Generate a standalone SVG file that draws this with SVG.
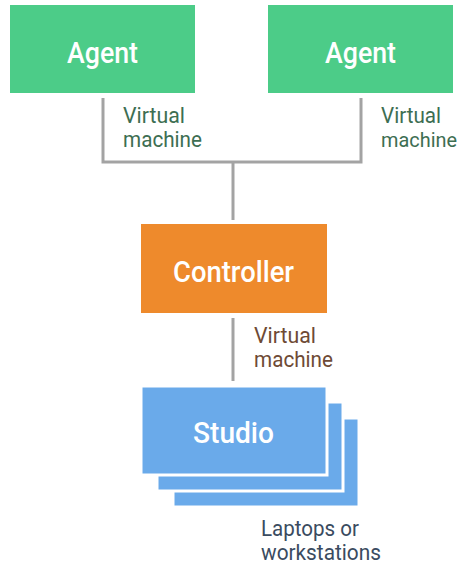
<svg xmlns="http://www.w3.org/2000/svg" width="462" height="568" viewBox="0 0 462 568">
<style>
.box-t{font-family:Roboto,"Liberation Sans",sans-serif;font-weight:500;font-size:30px;fill:#ffffff;}
.lbl{font-family:Roboto,"Liberation Sans",sans-serif;font-size:22px;}
.g{fill:#3d6e52}.o{fill:#6e4a35}.b{fill:#3a4b60}
.conn{stroke:#a3a3a3;stroke-width:3;fill:none}
</style>
<rect width="462" height="568" fill="#ffffff"/>
<g id="connectors">
<path class="conn" d="M103,98 V162 H361 V98"/>
<path class="conn" d="M233,162 V220"/>
<path class="conn" d="M233,318 V381"/>
</g>
<g id="agent-left">
<rect x="10" y="5" width="185" height="88" fill="#4ccc88"/>
<text class="box-t" x="67" y="63" textLength="71" lengthAdjust="spacingAndGlyphs">Agent</text>
<text class="lbl g" x="123" y="123" textLength="62" lengthAdjust="spacingAndGlyphs">Virtual</text>
<text class="lbl g" x="123" y="147" textLength="79" lengthAdjust="spacingAndGlyphs">machine</text>
</g>
<g id="agent-right">
<rect x="268" y="5" width="185" height="88" fill="#4ccc88"/>
<text class="box-t" x="325" y="63" textLength="71" lengthAdjust="spacingAndGlyphs">Agent</text>
<text class="lbl g" x="381" y="123" font-size="20" textLength="60" lengthAdjust="spacingAndGlyphs">Virtual</text>
<text class="lbl g" x="381" y="147" font-size="20" style="font-size:20px" textLength="76" lengthAdjust="spacingAndGlyphs">machine</text>
</g>
<g id="controller">
<rect x="141" y="224" width="186" height="89" fill="#ee8a2c"/>
<text class="box-t" x="173" y="282" textLength="121" lengthAdjust="spacingAndGlyphs">Controller</text>
<text class="lbl o" x="254" y="343" textLength="62" lengthAdjust="spacingAndGlyphs">Virtual</text>
<text class="lbl o" x="254" y="367" textLength="79" lengthAdjust="spacingAndGlyphs">machine</text>
</g>
<g id="studio">
<rect x="173" y="418" width="186" height="89" fill="#6aaaea" stroke="#ffffff" stroke-width="3"/>
<rect x="157" y="402" width="186" height="89" fill="#6aaaea" stroke="#ffffff" stroke-width="3"/>
<rect x="141" y="386" width="186" height="89" fill="#6aaaea" stroke="#ffffff" stroke-width="3"/>
<text class="box-t" x="193" y="443" textLength="81" lengthAdjust="spacingAndGlyphs">Studio</text>
<text class="lbl b" x="261" y="536" textLength="98" lengthAdjust="spacingAndGlyphs">Laptops or</text>
<text class="lbl b" x="261" y="560" textLength="120" lengthAdjust="spacingAndGlyphs">workstations</text>
</g>
</svg>
